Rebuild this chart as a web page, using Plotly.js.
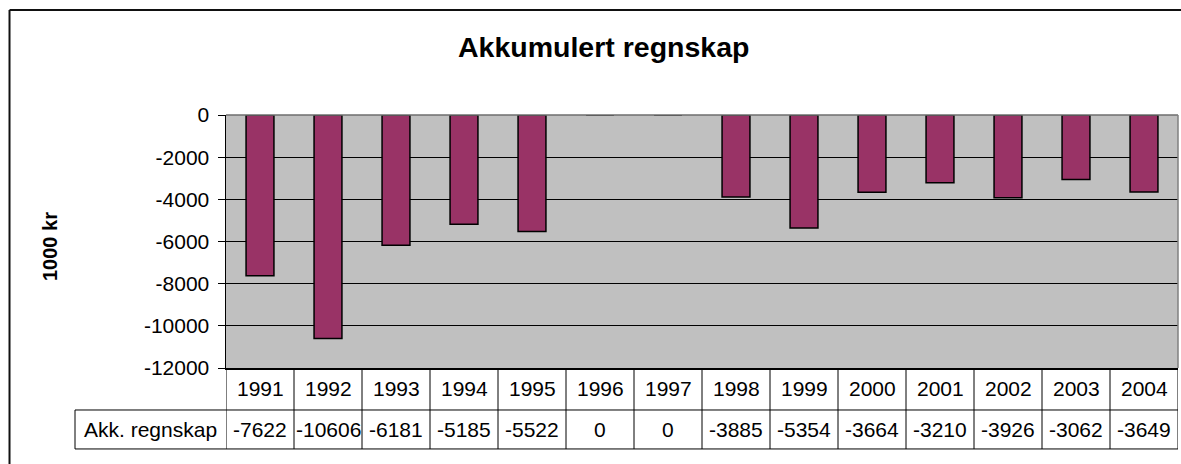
<!DOCTYPE html>
<html>
<head>
<meta charset="utf-8">
<script src="https://cdn.plot.ly/plotly-3.0.1.min.js"></script>
<style>html,body{margin:0;padding:0;background:#fff;}#chart{width:1181px;height:464px;}</style>
</head>
<body>
<div id="chart"></div>
<script>
const years = ['1991','1992','1993','1994','1995','1996','1997','1998','1999','2000','2001','2002','2003','2004'];
const values = [-7622, -10606, -6181, -5185, -5522, 0, 0, -3885, -5354, -3664, -3210, -3926, -3062, -3649];
const seriesName = 'Akk. regnskap';
const chartTitle = 'Akkumulert regnskap';
const yTitle = '1000 kr';
const yTicks = [0, -2000, -4000, -6000, -8000, -10000, -12000];

const FONT = 'Arial, "Liberation Sans", Helvetica, sans-serif';

const trace = {
  type: 'bar',
  x: years,
  y: values,
  marker: {color: '#993366', line: {color: '#000000', width: 1.5}},
  hoverinfo: 'x+y'
};

const annotations = [];
// title
annotations.push({xref:'paper', yref:'paper', x:0.397, y:1.269, xanchor:'center', yanchor:'middle',
  text:'<b>'+chartTitle+'</b>', showarrow:false, font:{family:FONT, size:28.5, color:'#000'}});
// y title
annotations.push({xref:'paper', yref:'paper', x:-0.1849, y:0.482, xanchor:'center', yanchor:'middle',
  text:'<b>'+yTitle+'</b>', textangle:-90, showarrow:false, font:{family:FONT, size:20, color:'#000'}});
// table label
annotations.push({xref:'paper', yref:'paper', x:-0.0793, y:-0.245, xanchor:'center', yanchor:'middle',
  text:seriesName, showarrow:false, font:{family:FONT, size:21, color:'#000'}});
years.forEach((yr, i) => {
  annotations.push({xref:'x', yref:'paper', x:i, y:-0.083, xanchor:'center', yanchor:'middle',
    text:yr, showarrow:false, font:{family:FONT, size:21, color:'#000'}});
  annotations.push({xref:'x', yref:'paper', x:i, y:-0.245, xanchor:'center', yanchor:'middle',
    text:String(values[i]), showarrow:false, font:{family:FONT, size:21, color:'#000'}});
});

const shapes = [];
// outer frame (left and top)
shapes.push({type:'line', xref:'paper', yref:'paper', x0:-0.2274, x1:-0.2274, y0:1.415, y1:-0.5, line:{color:'#111', width:2}});
shapes.push({type:'line', xref:'paper', yref:'paper', x0:-0.2274, x1:1.1, y0:1.415, y1:1.415, line:{color:'#111', width:2}});
// plot border top/right grey
shapes.push({type:'line', xref:'paper', yref:'paper', x0:0, x1:1, y0:1, y1:1, line:{color:'#6e6e6e', width:1.5}});
shapes.push({type:'line', xref:'paper', yref:'paper', x0:1, x1:1, y0:1, y1:0, line:{color:'#808080', width:1.5}});
// table horizontal lines
shapes.push({type:'line', xref:'paper', yref:'paper', x0:-0.1586, x1:1, y0:-0.166, y1:-0.166, line:{color:'#000', width:1}});
shapes.push({type:'line', xref:'paper', yref:'paper', x0:-0.1586, x1:1, y0:-0.320, y1:-0.320, line:{color:'#000', width:1}});
// label cell left border
shapes.push({type:'line', xref:'paper', yref:'paper', x0:-0.1586, x1:-0.1586, y0:-0.166, y1:-0.320, line:{color:'#000', width:1}});
// vertical cell lines
for (let i = 0; i <= years.length; i++) {
  shapes.push({type:'line', xref:'x', yref:'paper', x0:i-0.5, x1:i-0.5, y0:0, y1:-0.320, line:{color:'#000', width:1}});
}

const layout = {
  width: 1181, height: 464,
  margin: {l:226, r:3, t:115, b:96, pad:0},
  paper_bgcolor: '#ffffff',
  plot_bgcolor: '#c0c0c0',
  showlegend: false,
  bargap: 0.59,
  font: {family: FONT, size: 20, color: '#000'},
  xaxis: {
    type: 'category',
    showticklabels: false,
    ticks: '',
    showgrid: false,
    zeroline: false,
    showline: true, linecolor: '#000', linewidth: 1.5,
    range: [-0.5, years.length - 0.5],
    fixedrange: true
  },
  yaxis: {
    range: [-12000, 0],
    tickvals: yTicks,
    ticktext: yTicks.map(String),
    ticks: 'outside', ticklen: 7, tickcolor: '#000', tickwidth: 1,
    showgrid: true, gridcolor: '#000', gridwidth: 1,
    zeroline: false,
    showline: true, linecolor: '#000', linewidth: 1.5,
    tickfont: {family: FONT, size: 21, color: '#000'},
    ticklabelstandoff: 4,
    fixedrange: true
  },
  annotations: annotations,
  shapes: shapes
};

Plotly.newPlot('chart', [trace], layout, {displayModeBar: false, staticPlot: true});
</script>
</body>
</html>
